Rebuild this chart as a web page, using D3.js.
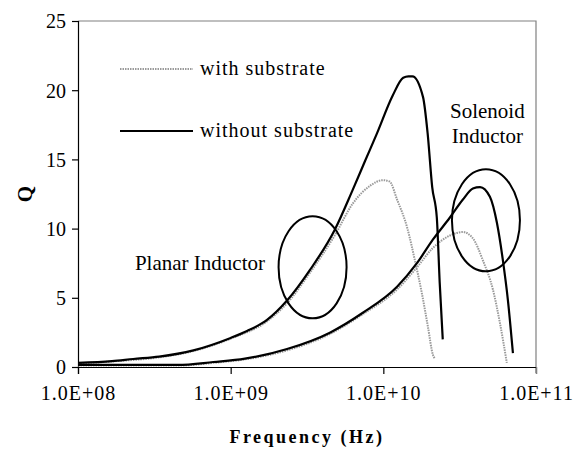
<!DOCTYPE html>
<html>
<head>
<meta charset="utf-8">
<script src="https://cdn.jsdelivr.net/npm/d3@7"></script>
<style>
  body { margin: 0; background: #fff; }
  text { font-family: "Liberation Serif", "Times New Roman", serif; fill: #000; }
</style>
</head>
<body>
<div class="canvas"></div>
<script>
var margin = {top: 21, right: 38, bottom: 82, left: 78},
    width = 574 - margin.left - margin.right,
    height = 449 - margin.top - margin.bottom;

// planar inductor
var planarFreqNoSub = [1.0e8, 1.67e8, 2.3e8, 3.4e8, 5.7e8, 1.0e9, 1.28e9, 1.73e9, 2.34e9, 3.3e9, 4.8e9, 6.3e9, 7.6e9, 9.1e9, 1.15e10, 1.35e10, 1.46e10, 1.55e10, 1.82e10, 1.95e10, 2.09e10, 2.24e10, 2.34e10, 2.45e10];
var planarQNoSub    = [0.3, 0.43, 0.58, 0.75, 1.2, 2.1, 2.6, 3.4, 4.8, 7.0, 9.9, 12.8, 14.9, 16.9, 19.6, 20.9, 21.0, 21.0, 19.5, 16.9, 13.0, 10.8, 6.1, 2.0];
var planarFreqSub = [1.0e8, 1.67e8, 3.4e8, 5.7e8, 1.0e9, 1.73e9, 2.34e9, 3.3e9, 4.8e9, 6.3e9, 8.2e9, 9.9e9, 1.1e10, 1.23e10, 1.43e10, 1.61e10, 1.79e10, 1.96e10, 2.11e10, 2.18e10];
var planarQSub    = [0.25, 0.4, 0.7, 1.15, 2.05, 3.3, 4.6, 6.8, 9.5, 11.8, 13.1, 13.5, 13.4, 12.1, 10.1, 7.7, 5.3, 2.9, 0.9, 0.6];

// solenoid inductor
var solFreqNoSub = [1.0e8, 4.5e8, 7.7e8, 1.24e9, 2.34e9, 4.5e9, 7.3e9, 1.23e10, 1.66e10, 2.11e10, 2.73e10, 3.32e10, 3.86e10, 4.3e10, 4.99e10, 5.55e10, 6.07e10, 6.55e10, 7.06e10];
var solQNoSub    = [0.15, 0.15, 0.36, 0.6, 1.3, 2.5, 3.9, 5.8, 7.5, 9.2, 10.8, 12.1, 12.9, 13.0, 12.3, 10.4, 7.7, 4.8, 1.0];
var solFreqSub = [1.0e8, 4.5e8, 7.7e8, 1.24e9, 2.34e9, 4.5e9, 7.3e9, 1.23e10, 1.66e10, 2.11e10, 2.73e10, 3.32e10, 3.86e10, 4.49e10, 5.22e10, 5.8e10, 6.44e10];
var solQSub    = [0.1, 0.1, 0.3, 0.55, 1.2, 2.4, 3.8, 5.6, 7.2, 8.6, 9.5, 9.75, 9.3, 7.7, 5.6, 3.2, 0.3];

var xTicks = [1e8, 1e9, 1e10, 1e11];
var yTicks = [0, 5, 10, 15, 20, 25];
var legendLabels = ["with substrate", "without substrate"];

// circled regions: [centre freq, centre Q]
var circles = [[3.44e9, 7.2], [4.7e10, 10.6]];

var svg = d3.select(".canvas").append("svg")
    .attr("width", width + margin.left + margin.right)
    .attr("height", height + margin.top + margin.bottom)
  .append("g")
    .attr("transform", "translate(" + margin.left + "," + margin.top + ")");

var x = d3.scaleLog().domain([1e8, 1e11]).range([0, width]);
var y = d3.scaleLinear().domain([0, 25]).range([height, 0]);

// plot area border (top/right grey)
svg.append("path")
    .attr("d", "M0,0 H" + width + " V" + (height + 6))
    .attr("fill", "none")
    .attr("stroke", "#808080")
    .attr("stroke-width", 1.2);

var yAxis = svg.append("g")
    .call(d3.axisLeft(y).tickValues(yTicks).tickSize(6).tickPadding(6));
var xAxis = svg.append("g")
    .attr("transform", "translate(0," + height + ")")
    .call(d3.axisBottom(x).tickValues(xTicks).tickSize(7).tickPadding(12)
      .tickFormat(function(d) { return d.toExponential(1).toUpperCase().replace(/E\+(\d)$/, "E+0$1"); }));

[xAxis, yAxis].forEach(function(a) {
  a.select(".domain").attr("stroke", "#000").attr("stroke-width", 1.2);
  a.selectAll(".tick line").attr("stroke", "#000").attr("stroke-width", 1.2);
  a.selectAll(".tick text")
    .style("font-family", "Liberation Serif, serif")
    .style("font-size", "20px")
    .attr("fill", "#000");
});
xAxis.selectAll(".tick text").style("letter-spacing", "1px");
xAxis.selectAll(".tick").filter(function(d) { return d === 1e11; })
    .select("line").attr("stroke", "#808080");
yAxis.selectAll(".tick text").attr("dy", "0.34em");

var line = d3.line()
    .x(function(d) { return x(d[0]); })
    .y(function(d) { return y(d[1]); })
    .curve(d3.curveMonotoneX);

function pts(fs, qs) { return fs.map(function(f, i) { return [f, qs[i]]; }); }

var subStyle = function(sel) {
  sel.attr("fill", "none")
    .attr("stroke", "#9a9a9a")
    .attr("stroke-width", 2)
    .attr("stroke-dasharray", "1.5,1");
};
var noSubStyle = function(sel) {
  sel.attr("fill", "none")
    .attr("stroke", "#000")
    .attr("stroke-width", 2.2);
};

svg.append("path").datum(pts(planarFreqSub, planarQSub)).attr("d", line).call(subStyle);
svg.append("path").datum(pts(solFreqSub, solQSub)).attr("d", line).call(subStyle);
svg.append("path").datum(pts(planarFreqNoSub, planarQNoSub)).attr("d", line).call(noSubStyle);
svg.append("path").datum(pts(solFreqNoSub, solQNoSub)).attr("d", line).call(noSubStyle);

svg.selectAll(".ring").data(circles)
  .enter().append("ellipse")
    .attr("class", "ring")
    .attr("cx", function(d) { return x(d[0]); })
    .attr("cy", function(d) { return y(d[1]); })
    .attr("rx", 34)
    .attr("ry", 51)
    .attr("fill", "none")
    .attr("stroke", "#000")
    .attr("stroke-width", 2);

// annotations
svg.append("text")
    .attr("x", x(2.36e8))
    .attr("y", y(7.0))
    .style("font-size", "21px")
    .text("Planar Inductor");
var sol = svg.append("text")
    .attr("text-anchor", "middle")
    .style("font-size", "21px");
sol.append("tspan").attr("x", x(4.8e10)).attr("y", y(18.0)).text("Solenoid");
sol.append("tspan").attr("x", x(4.8e10)).attr("y", y(16.2)).text("Inductor");

// legend
var legend = svg.selectAll(".legend").data(legendLabels)
  .enter().append("g")
    .attr("class", "legend")
    .attr("transform", function(d, i) { return "translate(42," + (48 + i * 62) + ")"; });
legend.append("line")
    .attr("x1", 0).attr("x2", 73)
    .each(function(d, i) { d3.select(this).call(i === 0 ? subStyle : noSubStyle); });
legend.append("text")
    .attr("x", 80)
    .attr("y", 6)
    .style("font-size", "20px")
    .style("letter-spacing", "1px")
    .text(function(d) { return d; });

// axis titles
svg.append("text")
    .attr("transform", "translate(" + (-46) + "," + (height / 2) + ") rotate(-90)")
    .attr("text-anchor", "middle")
    .style("font-size", "21px")
    .style("font-weight", "bold")
    .text("Q");
svg.append("text")
    .attr("x", width / 2)
    .attr("y", height + 76)
    .attr("text-anchor", "middle")
    .style("font-size", "18px")
    .style("font-weight", "bold")
    .style("letter-spacing", "2.5px")
    .text("Frequency (Hz)");
</script>
</body>
</html>
